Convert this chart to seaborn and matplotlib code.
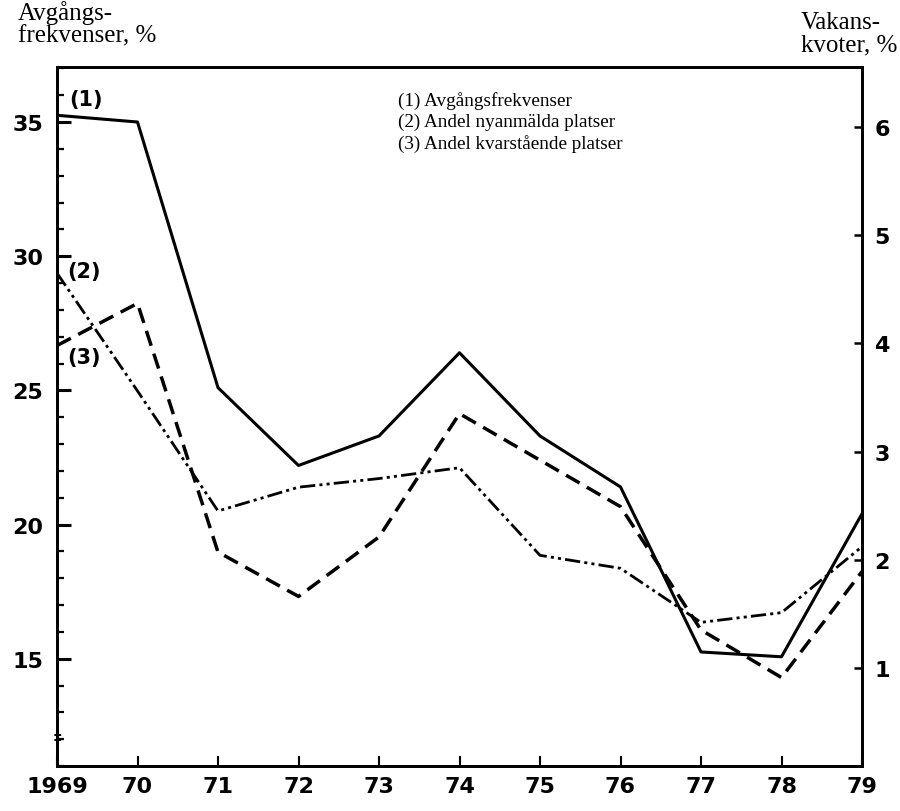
import matplotlib
matplotlib.use("Agg")
import matplotlib.pyplot as plt
import matplotlib.transforms as mtransforms
from matplotlib.ticker import MultipleLocator, FixedLocator
import seaborn as sns
import pandas as pd

# ---- data ----
years = [1969, 1970, 1971, 1972, 1973, 1974, 1975, 1976, 1977, 1978, 1979]
year_labels = ["1969", "70", "71", "72", "73", "74", "75", "76", "77", "78", "79"]
# (1) Avgångsfrekvenser, % (left axis)
avgangsfrekvenser = [35.25, 35.0, 25.1, 22.2, 23.3, 26.4, 23.3, 21.4, 15.25, 15.07, 20.4]
# (2) Andel nyanmälda platser, vakanskvot % (right axis)
nyanmalda = [4.65, 3.56, 2.45, 2.67, 2.75, 2.85, 2.04, 1.92, 1.42, 1.51, 2.12]
# (3) Andel kvarstående platser, vakanskvot % (right axis)
kvarstaende = [3.98, 4.37, 2.07, 1.66, 2.21, 3.35, 2.92, 2.49, 1.35, 0.91, 1.89]

left_ticks = [15, 20, 25, 30, 35]
right_ticks = [1, 2, 3, 4, 5, 6]
legend_lines = ["(1) Avgångsfrekvenser",
                "(2) Andel nyanmälda platser",
                "(3) Andel kvarstående platser"]

df = pd.DataFrame({"year": years, "avg": avgangsfrekvenser,
                   "ny": nyanmalda, "kv": kvarstaende})

sns.set_style("ticks")
plt.rcParams["font.family"] = ["DejaVu Sans"]
plt.rcParams["text.color"] = "black"
plt.rcParams["xtick.color"] = "black"
plt.rcParams["ytick.color"] = "black"
plt.rcParams["xtick.labelcolor"] = "black"
plt.rcParams["ytick.labelcolor"] = "black"

fig = plt.figure(figsize=(9, 8.12), dpi=100)
ax = fig.add_axes([57 / 900, 1 - 767 / 812, (862 - 57) / 900, (767 - 68) / 812])
ax2 = ax.twinx()

sns.lineplot(data=df, x="year", y="avg", ax=ax, color="black", linewidth=2.2)
sns.lineplot(data=df, x="year", y="ny", ax=ax2, color="black", linewidth=2.0)
ax2.lines[-1].set_dashes([5.5, 1.5, 1.1, 1.5, 1.1, 1.5])
sns.lineplot(data=df, x="year", y="kv", ax=ax2, color="black", linewidth=2.5)
ax2.lines[-1].set_dashes([4.5, 2.4])

ax.set_xlim(1969, 1979)
ax.set_ylim(11, 37.05)
ax2.set_ylim((11 - 10.63) / 4.03, (37.05 - 10.63) / 4.03)

ax.set_xlabel("")
ax.set_ylabel("")
ax2.set_ylabel("")

tick_font = dict(fontsize=16, fontweight="bold", family="DejaVu Sans", color="black")

ax.xaxis.set_major_locator(FixedLocator(years))
ax.set_xticklabels(year_labels, **tick_font)
ax.yaxis.set_major_locator(FixedLocator(left_ticks))
ax.yaxis.set_minor_locator(MultipleLocator(1))
ax.set_yticklabels([str(t) for t in left_ticks], **tick_font)
ax2.yaxis.set_major_locator(FixedLocator(right_ticks))
ax2.set_yticklabels([str(t) for t in right_ticks], **tick_font)

ax.tick_params(axis="x", direction="in", length=7, width=1.5, pad=7, top=False)
ax.tick_params(axis="y", which="major", direction="in", length=10, width=2.2, pad=10, right=False)
ax.tick_params(axis="y", which="minor", direction="in", length=5, width=1.6, right=False)
ax2.tick_params(axis="y", which="major", direction="in", length=6, width=1.8, pad=9, left=False)

for a in (ax, ax2):
    for s in a.spines.values():
        s.set_visible(True)
        s.set_linewidth(2.0)
        s.set_color("black")

# axis break mark on left axis
trans = mtransforms.blended_transform_factory(ax.transAxes, ax.transData)
ax.text(0, 12.05, "‡", transform=trans, ha="center", va="center", fontsize=11, fontweight="bold")

# series labels
lab_font = dict(fontsize=15, fontweight="bold", ha="center", va="center", color="black")
ax.text(1969.36, 35.85, "(1)", **lab_font)
ax.text(1969.34, 29.45, "(2)", **lab_font)
ax.text(1969.34, 26.25, "(3)", **lab_font)

# legend block
serif = "Liberation Serif"
for i, line in enumerate(legend_lines):
    fig.text(398 / 900, 1 - (101 + i * 21.5) / 812, line, family=serif,
             fontsize=13.8, fontweight="normal", ha="left", va="center", color="black")

# axis titles
fig.text(18 / 900, 1 - 1 / 812, "Avgångs-\nfrekvenser, %", family=serif,
         fontsize=18, fontweight="normal", ha="left", va="top", linespacing=1.05, color="black")
fig.text(897 / 900, 1 - 12 / 812, "Vakans-\nkvoter, %", family=serif,
         fontsize=18, fontweight="normal", ha="right", va="top", linespacing=1.05,
         multialignment="left", color="black")

fig.savefig("out.png", dpi=100)
